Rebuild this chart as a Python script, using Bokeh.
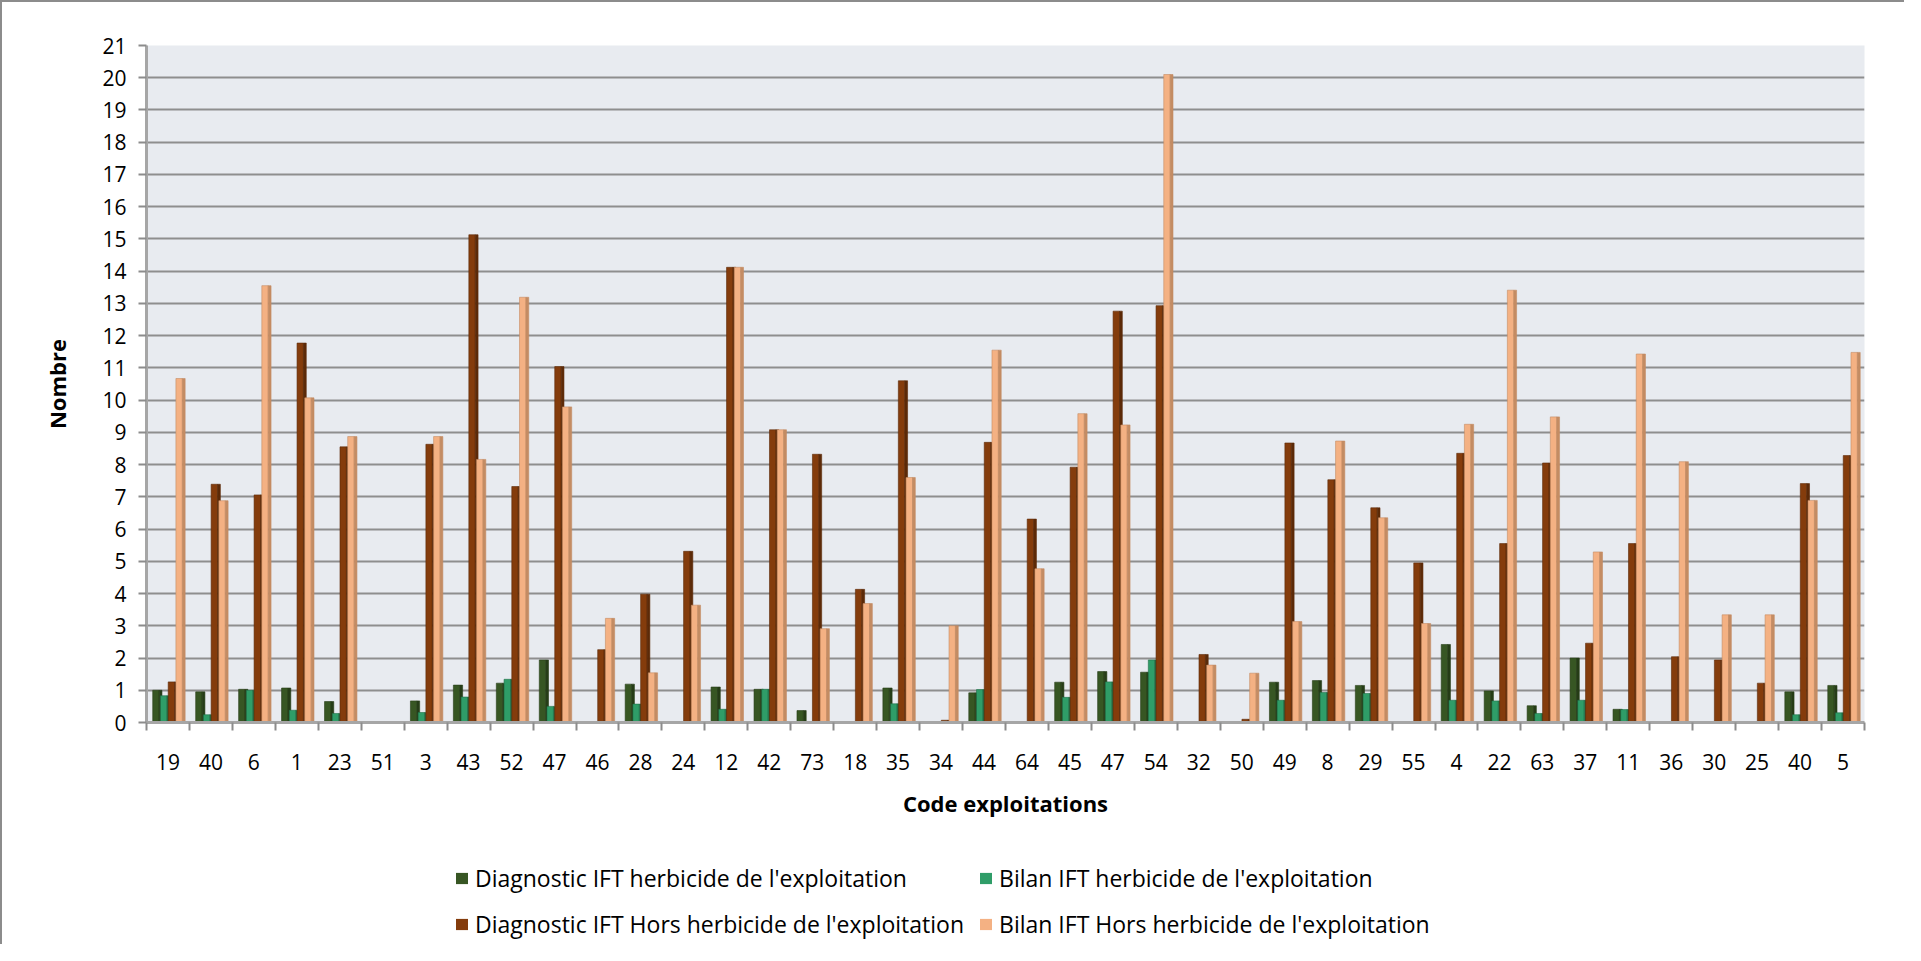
from bokeh.plotting import figure
from bokeh.layouts import column
from bokeh.models import ColumnDataSource, FixedTicker, Legend, LegendItem, Range1d
from bokeh.transform import dodge
from bokeh.embed import file_html
from bokeh.resources import INLINE

codes = ["19", "40", "6", "1", "23", "51", "3", "43", "52", "47", "46", "28", "24", "12",
         "42", "73", "18", "35", "34", "44", "64", "45", "47", "54", "32", "50", "49", "8",
         "29", "55", "4", "22", "63", "37", "11", "36", "30", "25", "40", "5"]

diag_herb = [1.0, 0.95, 1.03, 1.07, 0.65, 0, 0.67, 1.16, 1.22, 1.94, 0, 1.19, 0, 1.10,
             1.03, 0.37, 0, 1.07, 0, 0.92, 0, 1.25, 1.58, 1.56, 0, 0, 1.25, 1.30,
             1.15, 0, 2.42, 0.98, 0.52, 2.0, 0.41, 0, 0, 0, 0.95, 1.15]
bilan_herb = [0.83, 0.24, 1.0, 0.38, 0.28, 0, 0.31, 0.79, 1.34, 0.5, 0, 0.57, 0, 0.41,
              1.03, 0, 0, 0.58, 0, 1.02, 0, 0.78, 1.26, 1.94, 0, 0, 0.69, 0.93,
              0.9, 0, 0.69, 0.67, 0.28, 0.69, 0.40, 0, 0, 0, 0.24, 0.30]
diag_hors = [1.26, 7.39, 7.06, 11.77, 8.55, 0, 8.63, 15.13, 7.32, 11.04, 2.26, 3.98, 5.31, 14.12,
             9.08, 8.32, 4.13, 10.6, 0.07, 8.69, 6.31, 7.92, 12.76, 12.93, 2.11, 0.1, 8.67, 7.53,
             6.66, 4.95, 8.35, 5.55, 8.05, 2.46, 5.55, 2.04, 1.94, 1.22, 7.41, 8.28]
bilan_hors = [10.67, 6.88, 13.55, 10.07, 8.87, 0, 8.87, 8.16, 13.19, 9.79, 3.23, 1.54, 3.64, 14.12,
              9.08, 2.91, 3.69, 7.6, 3.0, 11.55, 4.77, 9.58, 9.23, 20.1, 1.78, 1.53, 3.13, 8.73,
              6.35, 3.07, 9.25, 13.41, 9.48, 5.29, 11.43, 8.09, 3.34, 3.34, 6.89, 11.48]

series_names = ["Diagnostic IFT herbicide de l'exploitation",
                "Bilan IFT herbicide de l'exploitation",
                "Diagnostic IFT Hors herbicide de l'exploitation",
                "Bilan IFT Hors herbicide de l'exploitation"]
y_ticks = list(range(0, 22))

FONT = "Open Sans"

idx = list(range(len(codes)))
src = ColumnDataSource(dict(idx=idx, s0=diag_herb, s1=bilan_herb, s2=diag_hors, s3=bilan_hors))

p = figure(frame_width=1718, frame_height=677, output_backend="svg", toolbar_location=None,
           x_range=Range1d(-0.5, len(codes) - 0.5), y_range=Range1d(0, 21),
           min_border_left=144, min_border_right=40, min_border_top=43, min_border_bottom=112)

p.background_fill_color = "#e8ebf0"
p.border_fill_color = "white"
p.outline_line_color = None

fronts = ["#375623", "#2f9d68", "#843c0c", "#f4b183"]
sides = ["#263d17", "#207048", "#5c2a08", "#c48c63"]
offsets = [-0.28, -0.10, 0.08, 0.26]
fw = 0.15
sw = 0.065

for i in range(4):
    col = "s%d" % i
    p.vbar(x=dodge("idx", offsets[i], range=p.x_range), top=col, width=fw, bottom=0,
           source=src, fill_color=fronts[i], line_color=sides[i], line_width=0.6)
    p.vbar(x=dodge("idx", offsets[i] + fw / 2 + sw / 2, range=p.x_range), top=col, width=sw,
           bottom=0, source=src, fill_color=sides[i], line_color=sides[i], line_width=0.6)

# grid
p.xgrid.grid_line_color = None
p.ygrid.ticker = FixedTicker(ticks=y_ticks)
p.ygrid.grid_line_color = "#8e8e8e"
p.ygrid.grid_line_width = 2

# y axis
p.yaxis.ticker = FixedTicker(ticks=y_ticks)
p.yaxis.axis_label = "Nombre"
p.yaxis.axis_label_text_font = FONT
p.yaxis.axis_label_text_font_size = "22px"
p.yaxis.axis_label_text_font_style = "bold"
p.yaxis.axis_label_text_color = "black"
p.yaxis.axis_label_standoff = 27
p.yaxis.major_label_text_font = FONT
p.yaxis.major_label_text_font_size = "21px"
p.yaxis.major_label_text_color = "black"
p.yaxis.major_label_standoff = 12
p.yaxis.major_tick_out = 8
p.yaxis.major_tick_in = 0
p.yaxis.minor_tick_line_color = None
p.yaxis.axis_line_color = "#a6a6a6"
p.yaxis.axis_line_width = 3
p.yaxis.major_tick_line_color = "#8c8c8c"
p.yaxis.major_tick_line_width = 2

# x axis
p.xaxis.ticker = FixedTicker(ticks=idx, minor_ticks=[i - 0.5 for i in range(len(codes) + 1)])
p.xaxis.major_label_overrides = {i: c for i, c in enumerate(codes)}
p.xaxis.axis_label = "Code exploitations"
p.xaxis.axis_label_text_font = FONT
p.xaxis.axis_label_text_font_size = "22px"
p.xaxis.axis_label_text_font_style = "bold"
p.xaxis.axis_label_text_color = "black"
p.xaxis.axis_label_standoff = 15
p.xaxis.major_label_text_font = FONT
p.xaxis.major_label_text_font_size = "21px"
p.xaxis.major_label_text_color = "black"
p.xaxis.major_label_standoff = 23
p.xaxis.major_tick_line_color = None
p.xaxis.minor_tick_out = 8
p.xaxis.minor_tick_in = 0
p.xaxis.minor_tick_line_color = "#8c8c8c"
p.xaxis.minor_tick_line_width = 2
p.xaxis.axis_line_color = "#a6a6a6"
p.xaxis.axis_line_width = 3

# legend strip below the chart (legend swatches need renderers in the same plot;
# the swatch renderers are zero-height bars so nothing is drawn in the strip itself)
leg = figure(width=1902, height=110, output_backend="svg", toolbar_location=None,
             x_range=Range1d(0, 1), y_range=Range1d(0, 1),
             x_axis_location=None, y_axis_location=None,
             min_border_left=0, min_border_right=0, min_border_top=0, min_border_bottom=0)
leg.grid.grid_line_color = None
leg.outline_line_color = None
leg.background_fill_color = "white"
leg.border_fill_color = "white"

swatches = []
for i in range(4):
    swatches.append(leg.vbar(x=[0.5], top=[0], bottom=[0], width=0.01,
                             fill_color=fronts[i], line_color=None))

# legend filled column by column: first column holds the Diagnostic items
items = [LegendItem(label=series_names[i], renderers=[swatches[i]]) for i in (0, 2, 1, 3)]
legend = Legend(items=items, ncols=2, location=(308, 4),
                label_text_font=FONT, label_text_font_size="23px", label_text_color="black",
                glyph_width=15, glyph_height=14, label_standoff=6,
                spacing=14, padding=0, margin=0, border_line_color=None,
                background_fill_alpha=0)
leg.add_layout(legend, "center")

layout = column(p, leg, spacing=0)
layout.styles = {"border-left": "2px solid #8c8c8c", "border-top": "2px solid #8c8c8c"}

open("out.html", "w").write(file_html(layout, INLINE))
